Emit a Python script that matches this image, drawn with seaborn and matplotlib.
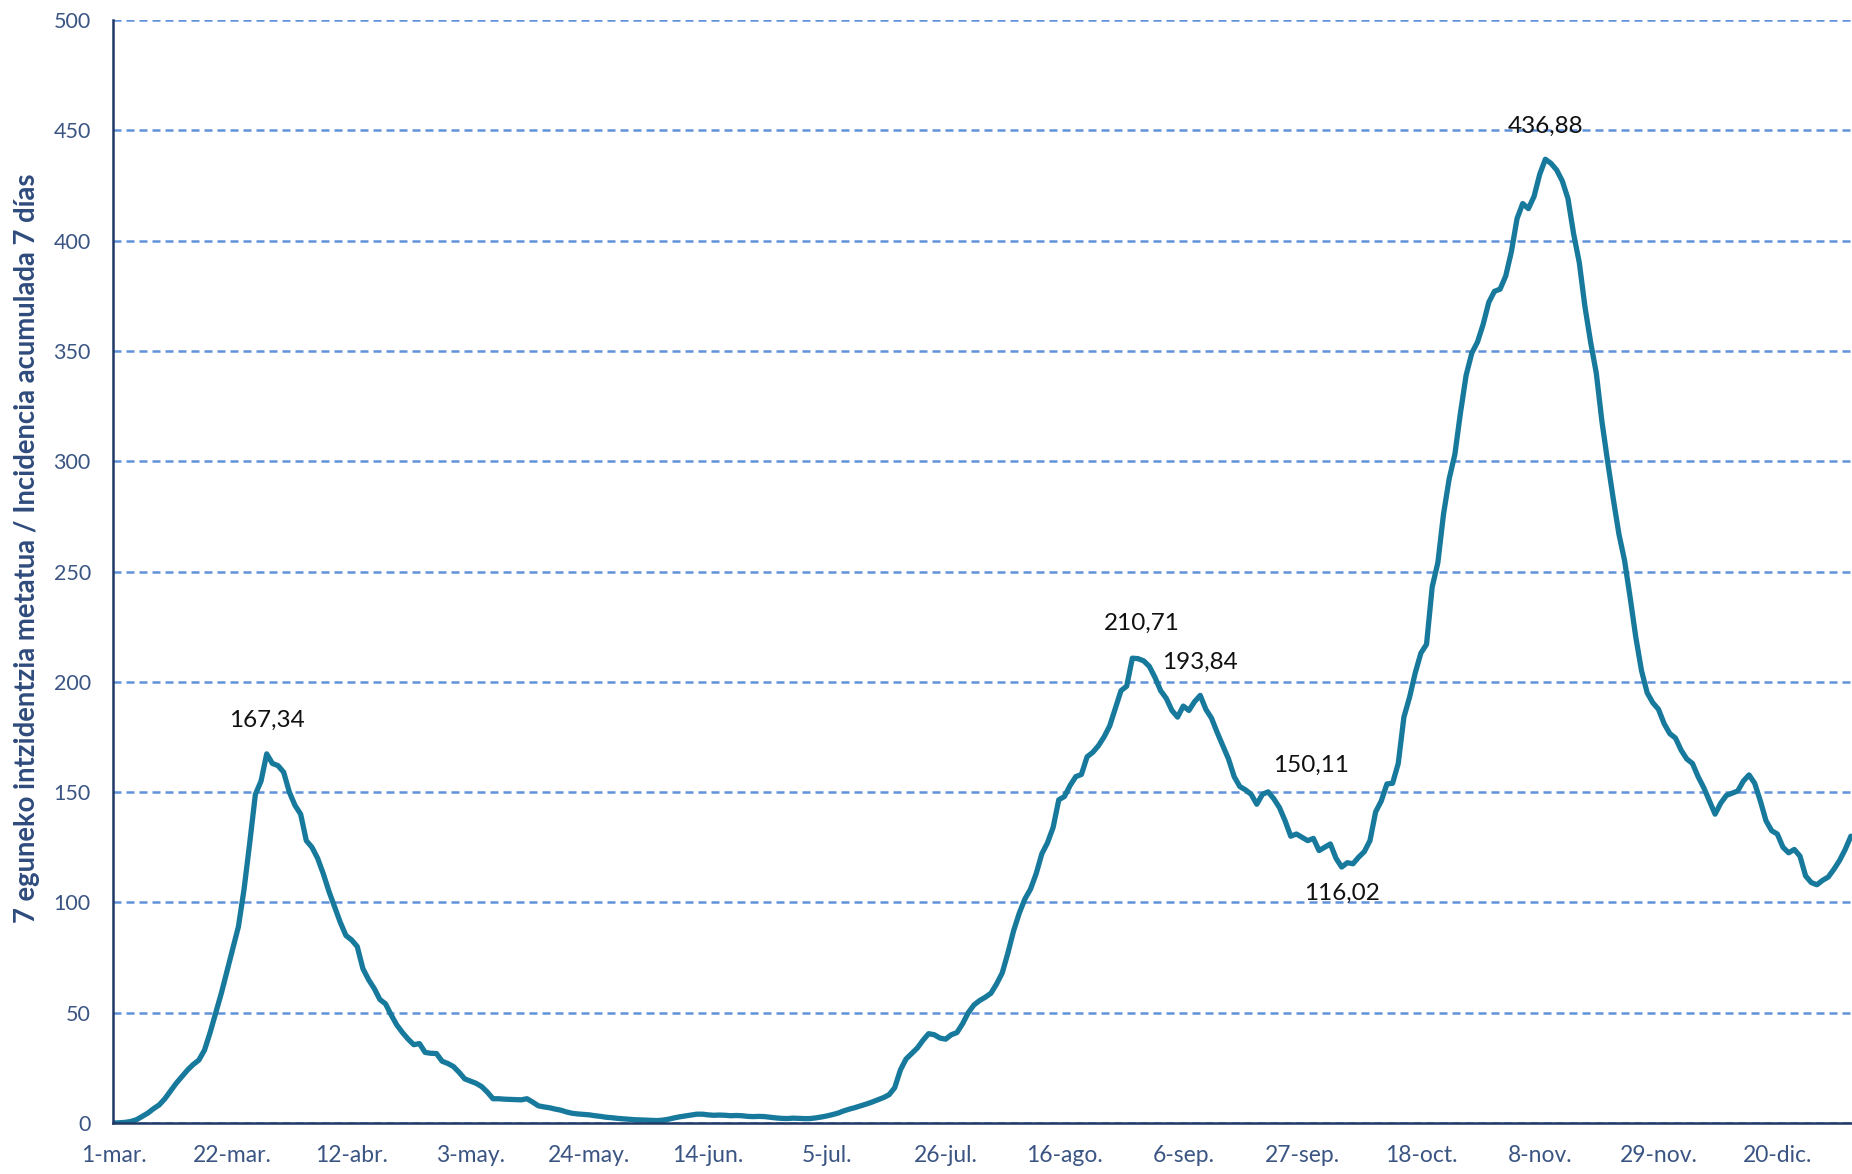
import numpy as np
import pandas as pd
import matplotlib
matplotlib.use("Agg")
import matplotlib.pyplot as plt
import seaborn as sns

# ---------------- data ----------------
start_date = "2020-03-01"
incidence = [
    0, 0.1, 0.3, 0.7, 1.5, 3, 4.5, 6.5, 8.2, 11,                       # 0-9
    14.5, 18, 21, 24, 26.5, 28.5, 33, 41, 50, 59,                      # 10-19
    69, 79, 89, 106, 127, 149, 155, 167.34, 163, 162,                  # 20-29
    159, 150, 144, 140, 128, 125, 120, 113, 105, 98,                   # 30-39
    91, 85, 83, 80, 70, 65, 61, 56, 54, 49,                            # 40-49
    44.4, 41, 38, 35.5, 36, 32, 31.6, 31.5, 28, 27,                    # 50-59
    25.6, 23, 20, 19, 18, 16.5, 14, 11, 11, 10.8,                      # 60-69
    10.7, 10.6, 10.5, 11, 9.5, 7.8, 7.3, 6.9, 6.3, 5.8,                # 70-79
    5, 4.4, 4.1, 3.9, 3.7, 3.3, 3.0, 2.6, 2.4, 2.1,                    # 80-89
    1.9, 1.7, 1.5, 1.4, 1.3, 1.2, 1.1, 1.3, 1.7, 2.3,                  # 90-99
    2.8, 3.2, 3.6, 4.0, 4.0, 3.7, 3.5, 3.6, 3.5, 3.3,                  # 100-109
    3.4, 3.3, 3.0, 2.9, 3.0, 2.9, 2.6, 2.3, 2.1, 2.0,                  # 110-119
    2.2, 2.1, 2.0, 2.0, 2.3, 2.7, 3.2, 3.8, 4.5, 5.5,                  # 120-129
    6.3, 7.0, 7.8, 8.6, 9.5, 10.5, 11.5, 12.8, 16, 24,                 # 130-139
    29, 31.5, 34, 37.5, 40.5, 40, 38.5, 38, 40, 41,                    # 140-149
    45, 50, 53.5, 55.5, 57, 58.8, 63, 68, 77, 87,                      # 150-159
    95, 101.5, 106, 113, 122, 127, 134, 146.5, 148, 153,               # 160-169
    157, 158, 166, 168, 171, 175, 180, 188, 196, 198,                  # 170-179
    210.71, 210.5, 209.5, 207, 202, 196, 192.5, 187, 184, 189,         # 180-189
    187, 191, 193.84, 187.5, 183.5, 177, 171, 165, 157, 152.5,         # 190-199
    151, 149, 144.5, 149, 150.11, 147, 143, 137, 130, 131,             # 200-209
    129.5, 128, 129, 123.5, 125, 126.5, 120, 116.02, 118, 117.5,       # 210-219
    120.5, 123, 128, 141, 146, 153.7, 154, 163, 184, 193,              # 220-229
    204, 213, 217, 243, 254, 276, 292, 303, 322, 339,                  # 230-239
    349, 354, 362, 372, 377, 378, 384, 395, 410, 416.8,                # 240-249
    414.5, 420, 430, 436.88, 435, 432, 427, 419, 403, 390,             # 250-259
    370, 354, 340, 318, 300, 283, 267, 255, 238, 220,                  # 260-269
    205, 195, 190.5, 187.5, 181, 176.5, 174.5, 169, 165, 163,          # 270-279
    157, 152, 146, 140, 145, 148.5, 149.5, 150.5, 155, 157.8,          # 280-289
    154, 146, 137, 132.5, 131, 125, 122.5, 124, 121, 112,              # 290-299
    109, 108, 110, 111.5, 115, 119, 124, 130,                          # 300-307
]

tick_labels = ["1-mar.", "22-mar.", "12-abr.", "3-may.", "24-may.", "14-jun.",
               "5-jul.", "26-jul.", "16-ago.", "6-sep.", "27-sep.", "18-oct.",
               "8-nov.", "29-nov.", "20-dic."]
y_ticks = [0, 50, 100, 150, 200, 250, 300, 350, 400, 450, 500]

# annotated values (date of the point, label)
note_dates = ["2020-03-28", "2020-08-28", "2020-09-09", "2020-09-21", "2020-10-04", "2020-11-09"]
note_labels = ["167,34", "210,71", "193,84", "150,11", "116,02", "436,88"]
# text offsets in points (dx, dy)
note_offsets = [(0, 24), (7, 25), (0, 24), (31, 19), (0, -19), (0, 24)]

ylabel = "7 eguneko intzidentzia metatua / Incidencia acumulada 7 días"

# ---------------- style ----------------
sns.set_theme(style="white")
plt.rcParams["font.family"] = ["Lato", "DejaVu Sans"]

LINE = "#17799B"
GRID = "#4F86D6"
SPINE = "#1F3864"
TICK = "#3B5583"
YLAB = "#2F4B7C"

dates = pd.date_range(start_date, periods=len(incidence), freq="D")
df = pd.DataFrame({"fecha": dates, "ia7": incidence})

W, H = 1852, 1174
fig = plt.figure(figsize=(W / 100, H / 100), dpi=100)
ax = fig.add_axes([113 / W, 51 / H, 1 - 113 / W, (1123 - 20) / H])

sns.lineplot(data=df, x="fecha", y="ia7", ax=ax, color=LINE, linewidth=3.8, zorder=3)

t0 = pd.Timestamp(start_date)
ax.set_xlim(t0 - pd.Timedelta(hours=4), t0 + pd.Timedelta(days=307.2))
ax.set_ylim(0, 500)

ax.set_yticks(y_ticks)
ax.set_yticklabels([str(v) for v in y_ticks])
xt = [t0 + pd.Timedelta(days=21 * i) for i in range(len(tick_labels))]
ax.set_xticks(xt)
ax.set_xticklabels(tick_labels)

ax.yaxis.grid(True, linestyle=(0, (3.2, 2.0)), color=GRID, linewidth=1.8, alpha=0.9)
ax.xaxis.grid(False)
for s in ["top", "right"]:
    ax.spines[s].set_visible(False)
for s in ["left", "bottom"]:
    ax.spines[s].set_color(SPINE)
    ax.spines[s].set_linewidth(1.8)
    ax.spines[s].set_zorder(4)

ax.tick_params(axis="y", length=0, pad=16, labelsize=15.5, labelcolor=TICK)
ax.tick_params(axis="x", length=0, pad=16, labelsize=16.5, labelcolor=TICK)
ax.set_xlabel("")
ax.set_ylabel("")

fig.text(27 / W, 1 - 548 / H, ylabel, rotation=90, ha="center", va="center",
         fontsize=19.8, fontweight="bold", color=YLAB)

for d, lab, (dx, dy) in zip(note_dates, note_labels, note_offsets):
    dd = pd.Timestamp(d)
    yv = df.loc[df["fecha"] == dd, "ia7"].iloc[0]
    ax.annotate(lab, xy=(dd, yv), xytext=(dx, dy), textcoords="offset points",
                ha="center", va="center", fontsize=17.5, color="#111111", zorder=5)

fig.savefig("out.png", dpi=100)
